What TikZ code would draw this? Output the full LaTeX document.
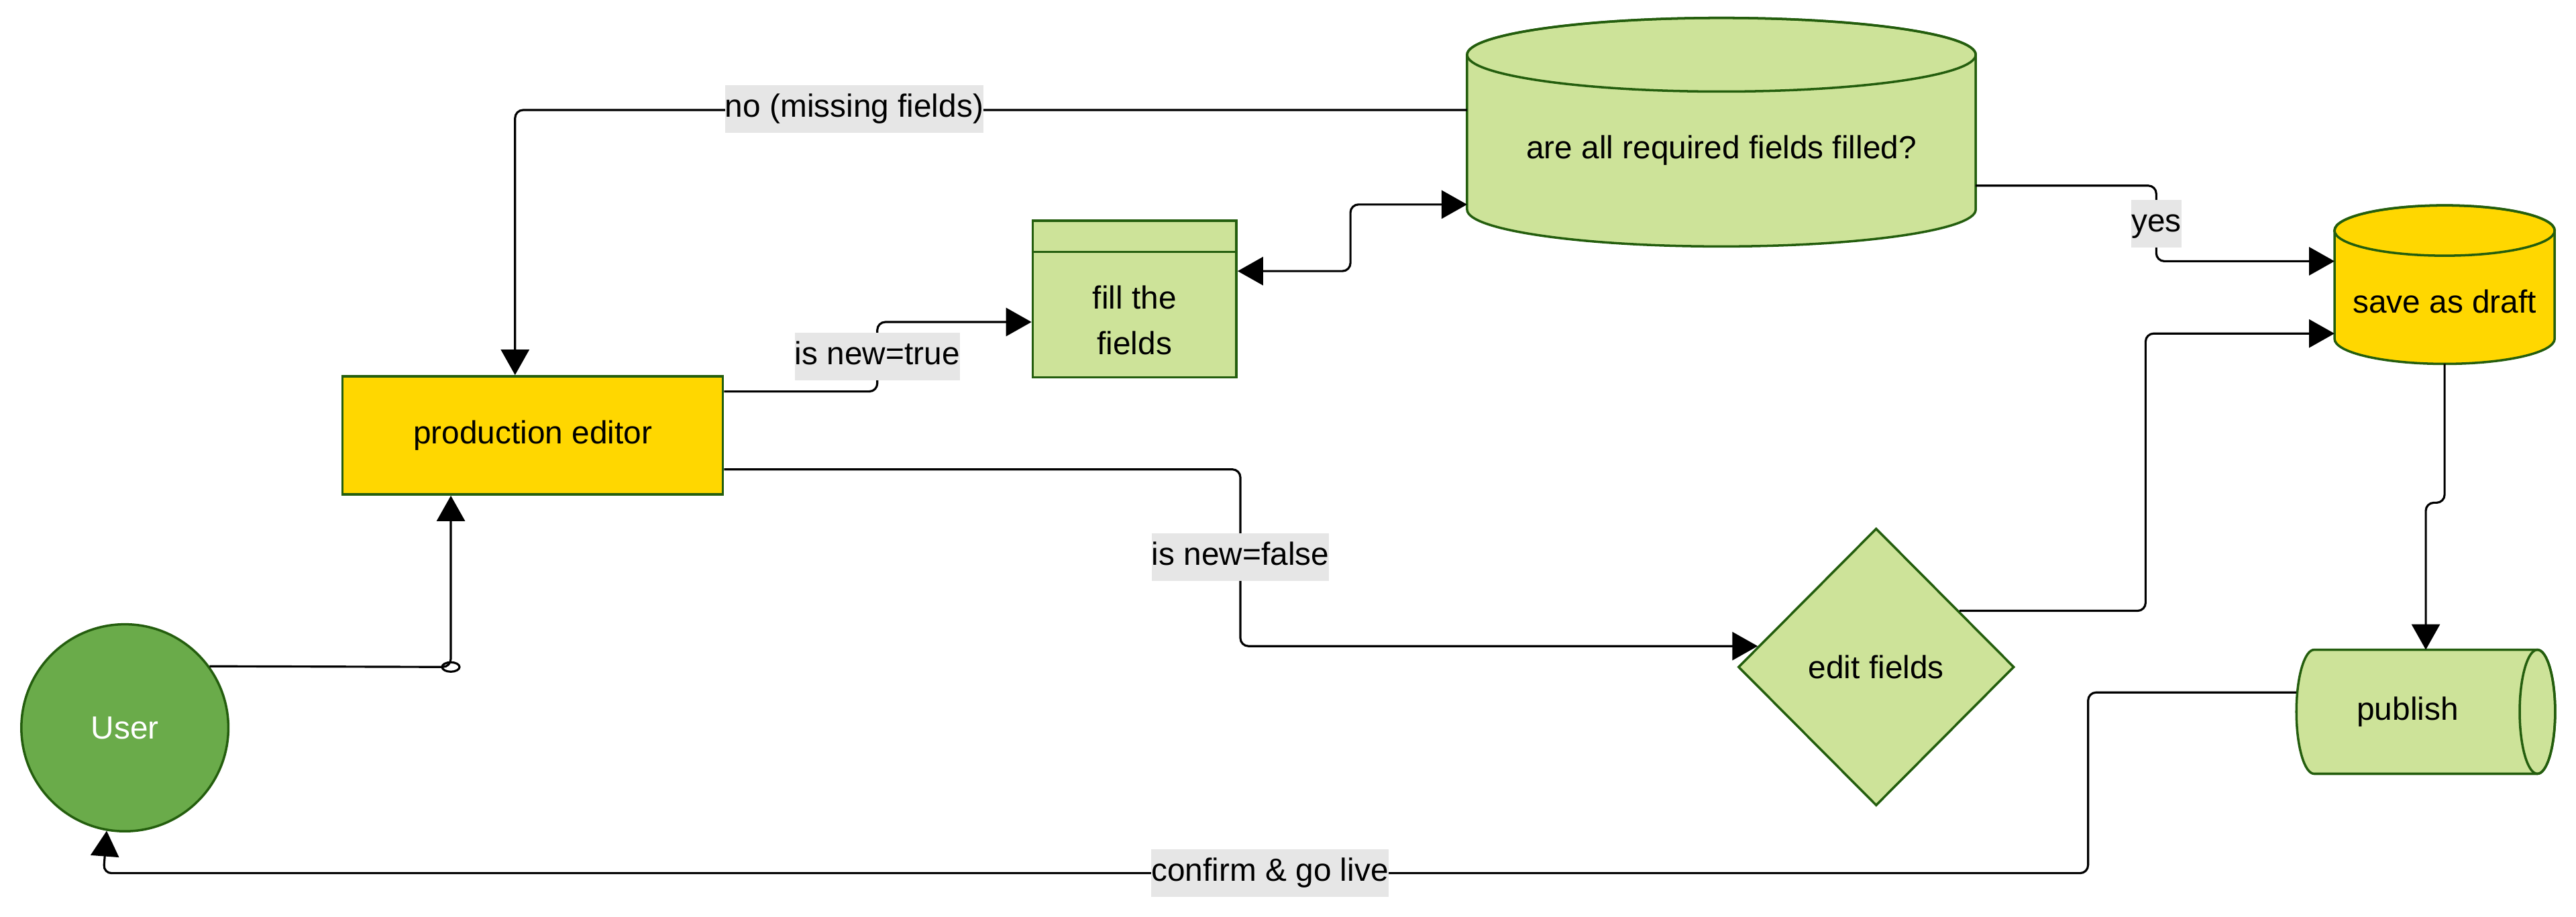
\documentclass[tikz,border=0pt]{standalone}
\usepackage{fontspec}
\setmainfont{Liberation Sans}
\usetikzlibrary{arrows.meta,shapes.geometric,calc}
\definecolor{lgreen}{HTML}{CDE399}
\definecolor{dgreen}{HTML}{245E0E}
\definecolor{ugreen}{HTML}{6AAB4A}
\definecolor{goldy}{HTML}{FFD700}
\definecolor{lblgray}{HTML}{E6E6E6}
\begin{document}
\begin{tikzpicture}[x=0.02449cm, y=-0.02449cm,
 font=\fontsize{13.6}{19.5}\selectfont,
 shapebox/.style={draw=dgreen, line width=1pt},
 ghost/.style={draw=none, inner sep=0pt, outer sep=0pt},
 conn/.style={line width=0.9pt, rounded corners=0.12cm},
 arr/.style={conn, -{Triangle[length=0.38cm,width=0.42cm]}},
 darr/.style={conn, {Triangle[length=0.38cm,width=0.42cm]}-{Triangle[length=0.38cm,width=0.42cm]}},
 lbl/.style={fill=lblgray, inner xsep=0pt, inner ysep=0pt, minimum height=0.71cm, text height=9.8pt, text depth=2.9pt}
]
\useasboundingbox (0,0) rectangle (1568,558);

% ---------- shapes ----------
\node[circle, shapebox, fill=ugreen, minimum size=3.086cm, inner sep=0pt, text=white] (user) at (76,443) {User};
\node[rectangle, shapebox, fill=goldy, minimum width=5.67cm, minimum height=1.763cm, inner sep=0pt] (pe) at (324.25,265) {production editor};

\node[rectangle, shapebox, fill=lgreen, minimum width=3.037cm, minimum height=2.334cm, inner sep=0pt] (fill) at (690.6,182) {};
\draw[dgreen, line width=1pt] ([yshift=-0.48cm]fill.north west) -- ([yshift=-0.48cm]fill.north east);
\node[ghost, align=center] (filltxt) at ([yshift=-0.318cm]fill.center) {fill the\\fields};

% big cylinder
\node[ghost, minimum width=7.582cm, minimum height=3.407cm] (chk) at (1047.8,80.45) {};
\path[shapebox, fill=lgreen] ([yshift=-0.549cm]chk.north west) -- ([yshift=0.549cm]chk.south west)
  arc[start angle=180, end angle=360, x radius=3.791cm, y radius=0.549cm]
  -- ([yshift=-0.549cm]chk.north east)
  arc[start angle=0, end angle=180, x radius=3.791cm, y radius=0.549cm] -- cycle;
\draw[shapebox] ([yshift=-0.549cm]chk.north) ellipse[x radius=3.791cm, y radius=0.549cm];
\node[ghost] (chktxt) at ([yshift=-0.27cm]chk.center) {are all required fields filled?};

% save as draft cylinder
\node[ghost, minimum width=3.282cm, minimum height=2.363cm] (save) at (1488,173.25) {};
\path[shapebox, fill=goldy] ([yshift=-0.375cm]save.north west) -- ([yshift=0.375cm]save.south west)
  arc[start angle=180, end angle=360, x radius=1.641cm, y radius=0.375cm]
  -- ([yshift=-0.375cm]save.north east)
  arc[start angle=0, end angle=180, x radius=1.641cm, y radius=0.375cm] -- cycle;
\draw[shapebox] ([yshift=-0.375cm]save.north) ellipse[x radius=1.641cm, y radius=0.375cm];
\node[ghost] (savetxt) at ([yshift=-0.25cm]save.center) {save as draft};

% publish horizontal cylinder
\node[ghost, minimum width=3.857cm, minimum height=1.849cm] (pub) at (1476.55,433.25) {};
\path[shapebox, fill=lgreen] ([xshift=0.2645cm]pub.north west) -- ([xshift=-0.2645cm]pub.north east)
  arc[start angle=90, end angle=-90, x radius=0.2645cm, y radius=0.9245cm]
  -- ([xshift=0.2645cm]pub.south west)
  arc[start angle=270, end angle=90, x radius=0.2645cm, y radius=0.9245cm] -- cycle;
\draw[shapebox] ([xshift=-0.2645cm]pub.east) ellipse[x radius=0.2645cm, y radius=0.9245cm];
\node[ghost] (pubtxt) at ([xshift=-0.27cm]pub.center) {publish};

% diamond
\node[diamond, shapebox, fill=lgreen, minimum width=4.114cm, minimum height=4.134cm, inner sep=0pt, aspect=1] (edit) at (1142,406) {edit fields};

% ---------- helper coordinates ----------
\coordinate (bend) at (274.4,406);
\coordinate (j1) at (822,145);
\coordinate (j2) at (1306,300);
\coordinate (j3) at (1480,306);
\coordinate (j4) at (1271,531.5);
\coordinate (j5) at (63,531.5);
\coordinate (cno) at (520,66.5);
\coordinate (ctrue) at (534,217);
\coordinate (cfalse) at (755,339);
\coordinate (cyes) at (1312.5,136);
\coordinate (clive) at (773,531.5);

\coordinate (s2) at ([yshift=-0.245cm]pe.north east);
\coordinate (t2) at ([yshift=-0.343cm]fill.west);
\coordinate (s3) at ([yshift=0.33cm]chk.west);
\coordinate (s4) at ([yshift=0.416cm]fill.east);
\coordinate (t4) at ([yshift=-1.078cm]chk.west);
\coordinate (s5) at ([yshift=-0.797cm]chk.east);
\coordinate (t5) at ([yshift=0.349cm]save.west);
\coordinate (t6) at ([yshift=-0.729cm]save.west);
\coordinate (s8) at ([yshift=0.392cm]pe.south east);
\coordinate (s9) at ([yshift=0.288cm]pub.west);

% ---------- connectors ----------
\draw[arr] (user.36) -- (bend) -- ([xshift=-1.22cm]pe.south);
\draw[line width=0.9pt] (bend) ellipse[x radius=0.13cm, y radius=0.07cm];
\draw[arr] (s2) -- (s2 -| ctrue) -- (t2 -| ctrue) -- (t2);
\draw[arr] (s3) -| ([xshift=-0.263cm]pe.north);
\draw[darr] (s4) -- (s4 -| j1) -- (t4 -| j1) -- (t4);
\draw[arr] (s5) -- (s5 -| cyes) -- (t5 -| cyes) -- (t5);
\draw[arr] (edit.34) -- (edit.34 -| j2) -- (t6 -| j2) -- (t6);
\draw[arr] (save.south) -- (save.south |- j3) -- (pub.north |- j3) -- (pub.north);
\draw[arr] (s8) -- (s8 -| cfalse) -- (edit.170 -| cfalse) -- (edit.170);
\draw[arr] (s9) -- (s9 -| j4) -- (j4) -- (j5) -- (user.260);

% ---------- labels ----------
\node[lbl] (lno) at (cno) {no (missing fields)};
\node[lbl] (ltrue) at (ctrue) {is new=true};
\node[lbl] (lfalse) at (cfalse) {is new=false};
\node[lbl] (lyes) at (cyes) {yes};
\node[lbl] (llive) at (clive) {confirm \& go live};
\end{tikzpicture}
\end{document}
